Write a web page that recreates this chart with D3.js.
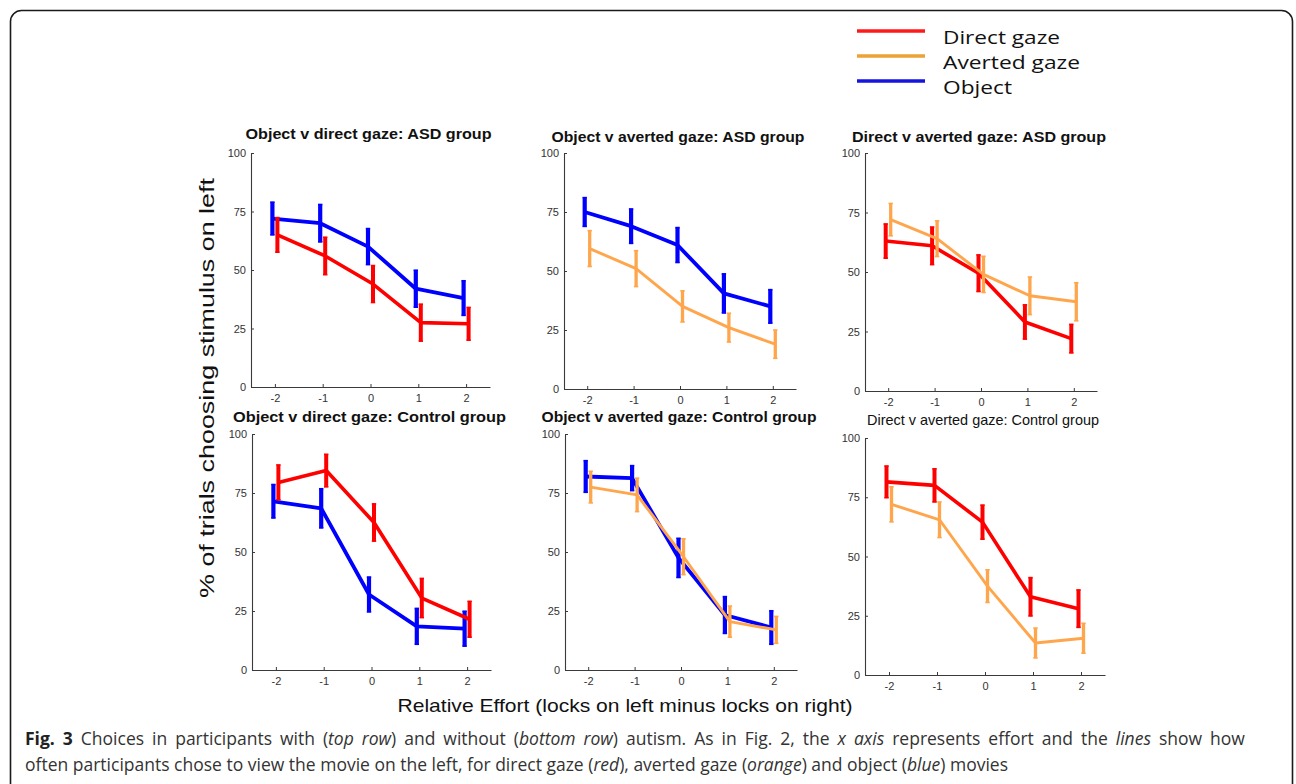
<!DOCTYPE html>
<html>
<head>
<meta charset="utf-8">
<script src="https://cdn.jsdelivr.net/npm/d3@7/dist/d3.min.js"></script>
<style>
  html, body { margin: 0; padding: 0; background: #fff; }
  svg { display: block; }
</style>
</head>
<body>
<svg id="chart" width="1296" height="784"></svg>
<script>
// ---------------- DATA ----------------
const effortLevels = [-2, -1, 0, 1, 2];
const yTickValues = [0, 25, 50, 75, 100];

const legendLabels = ["Direct gaze", "Averted gaze", "Object"];

const panelTitles = [
  "Object v direct gaze: ASD group",
  "Object v averted gaze: ASD group",
  "Direct v averted gaze: ASD group",
  "Object v direct gaze: Control group",
  "Object v averted gaze: Control group",
  "Direct v averted gaze: Control group"
];

// ASD group
const asdObjDirect_object      = [72, 70, 60, 42, 38];
const asdObjDirect_objectErr   = [7, 8, 7.7, 7.9, 7.4];
const asdObjDirect_direct      = [65, 56, 44, 27.5, 27];
const asdObjDirect_directErr   = [7.4, 8, 7.9, 7.9, 7];

const asdObjAverted_object     = [75, 69, 61, 40.5, 35];
const asdObjAverted_objectErr  = [6.1, 7.3, 7.4, 8.3, 7.1];
const asdObjAverted_averted    = [59.5, 51, 35, 26, 19];
const asdObjAverted_avertedErr = [7.6, 7.6, 6.6, 6.1, 6];

const asdDirAverted_direct     = [63, 61, 49.5, 29, 22];
const asdDirAverted_directErr  = [7.2, 7.9, 7.7, 7.2, 6];
const asdDirAverted_averted    = [72, 64, 49, 40, 37.5];
const asdDirAverted_avertedErr = [6.8, 7.5, 7.6, 7.9, 8];

// Control group
const ctlObjDirect_object      = [71.5, 68.5, 32, 18.5, 17.5];
const ctlObjDirect_objectErr   = [7.1, 8.3, 7.4, 7.6, 7.4];
const ctlObjDirect_direct      = [79.5, 84.5, 62.5, 30.5, 21.5];
const ctlObjDirect_directErr   = [7.4, 6.9, 7.9, 8.3, 7.6];

const ctlObjAverted_object     = [82, 81.3, 47.5, 23.3, 18];
const ctlObjAverted_objectErr  = [6.7, 5.3, 8.3, 7.8, 7.1];
const ctlObjAverted_averted    = [77.5, 74.2, 48, 20.5, 17];
const ctlObjAverted_avertedErr = [6.7, 7.1, 7.6, 6.6, 5.7];

const ctlDirAverted_direct     = [81.5, 80, 64.5, 33, 28];
const ctlDirAverted_directErr  = [6.7, 7, 7.2, 8.1, 7.9];
const ctlDirAverted_averted    = [72, 65.5, 37.5, 13.5, 15.5];
const ctlDirAverted_avertedErr = [7.4, 7.5, 6.9, 6.3, 6.3];

const xLabel = "Relative Effort (locks on left minus locks on right)";
const yLabel = "% of trials choosing stimulus on left";

// ---------------- STYLE / LAYOUT ----------------
const colors = { direct: "#ff0000", averted: "#ffa64d", object: "#0000ff" };
const legendColors = { direct: "#ff1a1a", averted: "#eca235", object: "#1414e0" };
const widths = { direct: 3.6, averted: 2.9, object: 3.8 };

const panels = [
  { title: panelTitles[0], box: [251, 490, 153, 387], titleY: 139, titleW: 246, bold: true,
    series: [ { key: "object", v: asdObjDirect_object, e: asdObjDirect_objectErr },
              { key: "direct", v: asdObjDirect_direct, e: asdObjDirect_directErr } ] },
  { title: panelTitles[1], box: [564, 796, 153, 389], titleY: 142, titleW: 253, bold: true,
    series: [ { key: "object", v: asdObjAverted_object, e: asdObjAverted_objectErr },
              { key: "averted", v: asdObjAverted_averted, e: asdObjAverted_avertedErr } ] },
  { title: panelTitles[2], box: [865, 1097, 153, 391], titleY: 142, titleW: 254, bold: true,
    series: [ { key: "direct", v: asdDirAverted_direct, e: asdDirAverted_directErr },
              { key: "averted", v: asdDirAverted_averted, e: asdDirAverted_avertedErr } ] },
  { title: panelTitles[3], box: [252, 491, 434, 670], titleY: 422, titleW: 273, bold: true,
    series: [ { key: "object", v: ctlObjDirect_object, e: ctlObjDirect_objectErr },
              { key: "direct", v: ctlObjDirect_direct, e: ctlObjDirect_directErr } ] },
  { title: panelTitles[4], box: [565, 797, 434, 670], titleY: 422, titleW: 275, bold: true,
    series: [ { key: "object", v: ctlObjAverted_object, e: ctlObjAverted_objectErr },
              { key: "averted", v: ctlObjAverted_averted, e: ctlObjAverted_avertedErr } ] },
  { title: panelTitles[5], box: [865, 1105, 438, 675], titleY: 425, titleW: 232, bold: false,
    series: [ { key: "direct", v: ctlDirAverted_direct, e: ctlDirAverted_directErr },
              { key: "averted", v: ctlDirAverted_averted, e: ctlDirAverted_avertedErr } ] }
];

const svg = d3.select("#chart");

// outer rounded frame
svg.append("rect")
  .attr("x", 10.5).attr("y", 10.5).attr("width", 1282).attr("height", 820)
  .attr("rx", 11).attr("ry", 11)
  .attr("fill", "none").attr("stroke", "#1a1a1a").attr("stroke-width", 1.6);

// panels
panels.forEach(p => {
  const [L, R, T, B] = p.box;
  const x = d3.scaleLinear().domain([-2.5, 2.5]).range([L, R]);
  const y = d3.scaleLinear().domain([0, 100]).range([B, T]);
  const g = svg.append("g");

  const yAxis = d3.axisLeft(y).tickValues(yTickValues).tickSizeInner(-3).tickSizeOuter(0).tickPadding(5);
  const xAxis = d3.axisBottom(x).tickValues(effortLevels).tickSizeInner(-3).tickSizeOuter(0).tickPadding(7)
                  .tickFormat(d3.format("d"));

  const ya = g.append("g").attr("transform", `translate(${L},0)`).call(yAxis);
  const xa = g.append("g").attr("transform", `translate(0,${B})`).call(xAxis);
  [ya, xa].forEach(a => {
    a.select(".domain").attr("stroke", "#3a3a3a").attr("stroke-width", 1.1);
    a.selectAll(".tick line").attr("stroke", "#3a3a3a");
    a.selectAll(".tick text").attr("fill", "#333").attr("font-family", "Liberation Sans, Arial, sans-serif")
      .attr("font-size", 11);
  });
  xa.selectAll(".tick text").text(d => d < 0 ? "-" + Math.abs(d) : d);

  g.append("text")
    .attr("x", (L + R) / 2 - 2).attr("y", p.titleY)
    .attr("text-anchor", "middle")
    .attr("font-family", "Liberation Sans, Arial, sans-serif")
    .attr("font-size", 14.5)
    .attr("font-weight", p.bold ? "bold" : "normal")
    .attr("fill", "#111")
    .attr("textLength", p.titleW).attr("lengthAdjust", "spacingAndGlyphs")
    .text(p.title);

  const dodge = [-2.5, 2.5];
  p.series.forEach((s, si) => {
    const col = colors[s.key];
    const w = widths[s.key];
    const pts = effortLevels.map((lv, i) => ({ x: x(lv) + dodge[si], v: s.v[i], e: s.e[i] }));
    const line = d3.line().x(d => d.x).y(d => y(d.v));
    g.append("path").datum(pts).attr("d", line)
      .attr("fill", "none").attr("stroke", col).attr("stroke-width", w)
      .attr("stroke-linejoin", "round");
    const eb = g.append("g");
    eb.selectAll("line.bar").data(pts).join("line").attr("class", "bar")
      .attr("x1", d => d.x).attr("x2", d => d.x)
      .attr("y1", d => y(d.v - d.e)).attr("y2", d => y(d.v + d.e))
      .attr("stroke", col).attr("stroke-width", w + 0.4);
    ["lo", "hi"].forEach(end => {
      eb.selectAll("line.cap" + end).data(pts).join("line").attr("class", "cap" + end)
        .attr("x1", d => d.x - 2.2).attr("x2", d => d.x + 2.2)
        .attr("y1", d => y(end === "lo" ? d.v - d.e : d.v + d.e))
        .attr("y2", d => y(end === "lo" ? d.v - d.e : d.v + d.e))
        .attr("stroke", col).attr("stroke-width", 1.6);
    });
  });
});

// axis labels
svg.append("text")
  .attr("transform", "translate(214,388) rotate(-90)")
  .attr("text-anchor", "middle")
  .attr("font-family", "Liberation Sans, Arial, sans-serif")
  .attr("font-size", 21).attr("fill", "#111")
  .attr("textLength", 420).attr("lengthAdjust", "spacingAndGlyphs")
  .text(yLabel);

svg.append("text")
  .attr("x", 625).attr("y", 712)
  .attr("text-anchor", "middle")
  .attr("font-family", "Liberation Sans, Arial, sans-serif")
  .attr("font-size", 19).attr("fill", "#111")
  .attr("textLength", 455).attr("lengthAdjust", "spacingAndGlyphs")
  .text(xLabel);

// legend
const legendKeys = ["direct", "averted", "object"];
const legendY = [31, 56, 81];
const legendBase = [44, 69, 94];
const legendW = [117, 137, 69];
legendKeys.forEach((k, i) => {
  svg.append("line")
    .attr("x1", 857).attr("x2", 925).attr("y1", legendY[i]).attr("y2", legendY[i])
    .attr("stroke", legendColors[k]).attr("stroke-width", 3.5);
  svg.append("text")
    .attr("x", 943).attr("y", legendBase[i])
    .attr("font-family", "Open Sans, Noto Sans, sans-serif")
    .attr("font-size", 18.5).attr("fill", "#111")
    .attr("textLength", legendW[i]).attr("lengthAdjust", "spacingAndGlyphs")
    .text(legendLabels[i]);
});

// caption (justified first line, natural last line)
const capFont = "Open Sans, Noto Sans, sans-serif";
const capSize = 17.5;
const cap1 = svg.append("text").attr("x", 25).attr("y", 745)
  .attr("font-family", capFont).attr("font-size", capSize).attr("fill", "#333");
cap1.append("tspan").attr("font-weight", "bold").attr("fill", "#222").text("Fig. 3");
cap1.append("tspan").text(" Choices in participants with (");
cap1.append("tspan").attr("font-style", "italic").text("top row");
cap1.append("tspan").text(") and without (");
cap1.append("tspan").attr("font-style", "italic").text("bottom row");
cap1.append("tspan").text(") autism. As in Fig. 2, the ");
cap1.append("tspan").attr("font-style", "italic").text("x axis");
cap1.append("tspan").text(" represents effort and the ");
cap1.append("tspan").attr("font-style", "italic").text("lines");
cap1.append("tspan").text(" show how");
const natural = cap1.node().getComputedTextLength();
const nSpaces = (cap1.text().match(/ /g) || []).length;
const extra = Math.max(0, (1220 - natural) / nSpaces);
cap1.attr("word-spacing", extra.toFixed(2));

const cap2 = svg.append("text").attr("x", 25).attr("y", 771)
  .attr("font-family", capFont).attr("font-size", capSize).attr("fill", "#333");
cap2.append("tspan").text("often participants chose to view the movie on the left, for direct gaze (");
cap2.append("tspan").attr("font-style", "italic").text("red");
cap2.append("tspan").text("), averted gaze (");
cap2.append("tspan").attr("font-style", "italic").text("orange");
cap2.append("tspan").text(") and object (");
cap2.append("tspan").attr("font-style", "italic").text("blue");
cap2.append("tspan").text(") movies");
</script>
</body>
</html>
